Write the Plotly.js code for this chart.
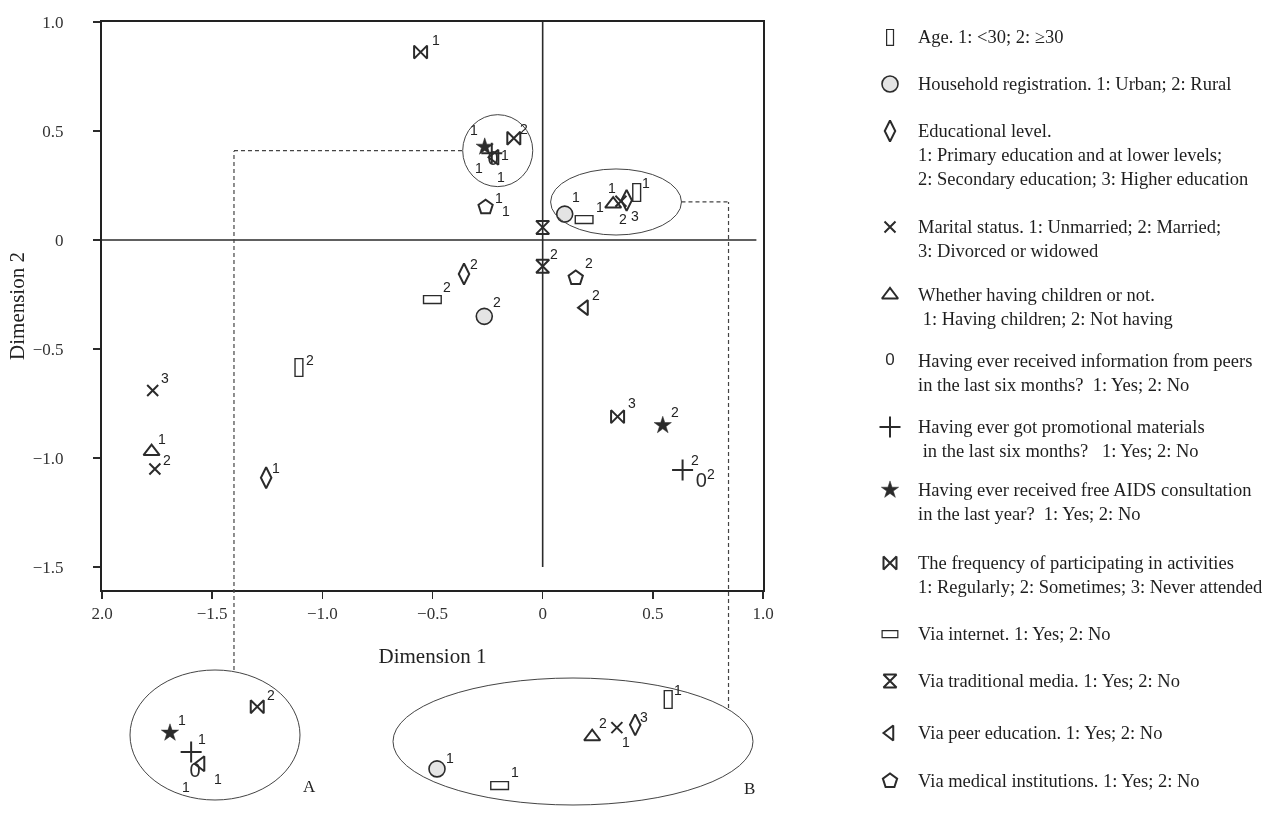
<!DOCTYPE html>
<html><head><meta charset="utf-8">
<script src="https://cdn.plot.ly/plotly-3.0.1.min.js"></script>
<style>html,body{margin:0;padding:0;background:#fff}#chart{width:1276px;height:822px;filter:grayscale(100%)}</style>
</head><body><div id="chart"></div>
<script>
// ---------------- DATA (Dimension 1, Dimension 2, category code) ----------------
const ageX = [0.428, -1.105];
const ageY = [0.218, -0.587];
const ageLab = ['1', '2'];
const houseX = [0.100, -0.265];
const houseY = [0.119, -0.350];
const houseLab = ['1', '2'];
const eduX = [-1.255, -0.357, 0.381];
const eduY = [-1.090, -0.156, 0.182];
const eduLab = ['1', '2', '3'];
const maritalX = [0.355, -1.760, -1.770];
const maritalY = [0.178, -1.050, -0.690];
const maritalLab = ['1', '2', '3'];
const childX = [-1.775, 0.320];
const childY = [-0.970, 0.165];
const childLab = ['1', '2'];
const peersX = [-0.225, 0.720];
const peersY = [0.367, -1.110];
const peersLab = ['1', '2'];
const promoX = [-0.231, 0.635];
const promoY = [0.398, -1.055];
const promoLab = ['1', '2'];
const aidsX = [-0.263, 0.545];
const aidsY = [0.427, -0.850];
const aidsLab = ['1', '2'];
const freqX = [-0.554, -0.131, 0.340];
const freqY = [0.862, 0.467, -0.810];
const freqLab = ['1', '2', '3'];
const netX = [0.189, -0.500];
const netY = [0.095, -0.275];
const netLab = ['1', '2'];
const tradX = [0.000, 0.000];
const tradY = [0.058, -0.120];
const tradLab = ['1', '2'];
const peerEduX = [-0.216, 0.190];
const peerEduY = [0.380, -0.310];
const peerEduLab = ['1', '2'];
const medX = [-0.259, 0.150];
const medY = [0.151, -0.174];
const medLab = ['1', '2'];

// legend texts
const ageText = ['Age. 1: <30; 2: \u226530'];
const houseText = ['Household registration. 1: Urban; 2: Rural'];
const eduText = ['Educational level.', '1: Primary education and at lower levels;', '2: Secondary education; 3: Higher education'];
const maritalText = ['Marital status. 1: Unmarried; 2: Married;', '3: Divorced or widowed'];
const childText = ['Whether having children or not.', '\u00a01: Having children; 2: Not having'];
const peersText = ['Having ever received information from peers', 'in the last six months?\u00a0 1: Yes; 2: No'];
const promoText = ['Having ever got promotional materials', '\u00a0in the last six months?\u00a0\u00a0 1: Yes; 2: No'];
const aidsText = ['Having ever received free AIDS consultation', 'in the last year?\u00a0 1: Yes; 2: No'];
const freqText = ['The frequency of participating in activities', '1: Regularly; 2: Sometimes; 3: Never attended'];
const netText = ['Via internet. 1: Yes; 2: No'];
const tradText = ['Via traditional media. 1: Yes; 2: No'];
const peerEduText = ['Via peer education. 1: Yes; 2: No'];
const medText = ['Via medical institutions. 1: Yes; 2: No'];

// points shown magnified in the two insets (category, index)
const insetAMembers = [['aids', 0], ['promo', 0], ['peerEdu', 0], ['peers', 0], ['freq', 1]];
const insetBMembers = [['house', 0], ['net', 0], ['child', 1], ['marital', 0], ['edu', 2], ['age', 0]];

// ---------------- STYLE / LAYOUT ----------------
const INK = '#2b2b2b';
const SERIF = '"Liberation Serif", "Times New Roman", serif';
const SANS = '"Liberation Sans", Arial, sans-serif';

const cats = [
  {key: 'age', x: ageX, y: ageY, lab: ageLab, legend: ageText, glyph: '\u25AF', gsize: 25, gfont: '"DejaVu Sans"', gweight: 'bold'},
  {key: 'house', x: houseX, y: houseY, lab: houseLab, legend: houseText, symbol: 'circle', size: 16, fill: '#e4e4e4', lw: 1.6},
  {key: 'edu', x: eduX, y: eduY, lab: eduLab, legend: eduText, symbol: 'diamond-tall-open', size: 15, lw: 2},
  {key: 'marital', x: maritalX, y: maritalY, lab: maritalLab, legend: maritalText, symbol: 'x-thin-open', size: 11, lw: 2},
  {key: 'child', x: childX, y: childY, lab: childLab, legend: childText, symbol: 'triangle-up-open', size: 14, lw: 2},
  {key: 'peers', x: peersX, y: peersY, lab: peersLab, legend: peersText, glyph: '0', gsize: 20, gfont: SANS, gweight: 'normal'},
  {key: 'promo', x: promoX, y: promoY, lab: promoLab, legend: promoText, symbol: 'cross-thin-open', size: 15, lw: 2},
  {key: 'aids', x: aidsX, y: aidsY, lab: aidsLab, legend: aidsText, symbol: 'star', size: 13, fill: INK, lw: 0.5},
  {key: 'freq', x: freqX, y: freqY, lab: freqLab, legend: freqText, symbol: 'bowtie-open', size: 13, lw: 2},
  {key: 'net', x: netX, y: netY, lab: netLab, legend: netText, glyph: '\u25AD', gsize: 25, gfont: '"DejaVu Sans"', gweight: 'bold'},
  {key: 'trad', x: tradX, y: tradY, lab: tradLab, legend: tradText, symbol: 'hourglass-open', size: 13, lw: 2},
  {key: 'peerEdu', x: peerEduX, y: peerEduY, lab: peerEduLab, legend: peerEduText, symbol: 'triangle-left-open', size: 13, lw: 2},
  {key: 'med', x: medX, y: medY, lab: medLab, legend: medText, symbol: 'pentagon-open', size: 15, lw: 2}
];

// label offsets in screen pixels [dx, dy(down)]
const mainShift = {
  age: [[9, -10], [11, -8]],
  house: [[11, -17], [13, -14]],
  edu: [[10, -10], [10, -10], [8, 16]],
  marital: [[-9, -13], [12, -9], [12, -12]],
  child: [[10, -13], [10, 15]],
  peers: [[-14, 8], [10, -8]],
  promo: [[13, 2], [12, -10]],
  aids: [[-11, -17], [12, -13]],
  freq: [[15, -12], [10, -9], [14, -14]],
  net: [[16, -12], [14, -13]],
  trad: [[-37, -16], [11, -12]],
  peerEdu: [[6, 20], [11, -13]],
  med: [[13, -9], [13, -15]]
};
const insetAShift = [[12, -13], [11, -13], [17, 15], [-9, 15], [14, -12]];
const insetBShift = [[13, -11], [15, -14], [11, -14], [9, 14], [9, -8], [10, -10]];

// legend rows (pixel rows of first text line) and geometry
const legendRows = [37, 84, 131, 227, 295, 361, 427, 490, 563, 634, 681, 733, 781];
const LEG_LINE = 24, LEG_SYM_X = 890, LEG_TXT_X = 916;

// page geometry
const W = 1276, H = 822, ML = 102, MR = 10, MT = 22, MB = 10;
const PW = W - ML - MR, PH = H - MT - MB;
const px2fx = p => (p - ML) / PW;
const px2fy = p => (H - MB - p) / PH;

const mainDomX = [0, px2fx(763)], mainDomY = [px2fy(590), 1];
const insADomX = [px2fx(130), px2fx(300)], insADomY = [px2fy(800), px2fy(670)];
const insBDomX = [px2fx(393), px2fx(753)], insBDomY = [px2fy(805), px2fy(678)];

const catByKey = {};
cats.forEach(c => catByKey[c.key] = c);

function markerTrace(c, xs, ys, xa, ya, gsize) {
  if (c.glyph) {
    return {type: 'scatter', mode: 'text', x: xs, y: ys, xaxis: xa, yaxis: ya,
      text: xs.map(() => c.glyph), textposition: 'middle center',
      textfont: {family: c.gfont, size: gsize || c.gsize, color: INK, weight: c.gweight},
      cliponaxis: false, hoverinfo: 'skip', showlegend: false, name: c.legend[0]};
  }
  return {type: 'scatter', mode: 'markers', x: xs, y: ys, xaxis: xa, yaxis: ya,
    marker: {symbol: c.symbol, size: c.size, color: c.fill || INK,
      line: {color: INK, width: c.lw}},
    cliponaxis: false, hoverinfo: 'skip', showlegend: false, name: c.legend[0]};
}

const traces = [];
const annotations = [];
const labFont = () => ({family: SANS, size: 14, color: '#222'});

// main plot
cats.forEach(c => {
  traces.push(markerTrace(c, c.x, c.y, 'x', 'y'));
  c.x.forEach((xv, i) => {
    const s = mainShift[c.key][i];
    annotations.push({xref: 'x', yref: 'y', x: xv, y: c.y[i], text: c.lab[i], showarrow: false,
      xshift: s[0], yshift: -s[1], font: labFont()});
  });
});

// insets
function addInset(members, shifts, xa, ya) {
  members.forEach((m, k) => {
    const c = catByKey[m[0]], i = m[1];
    traces.push(markerTrace(c, [c.x[i]], [c.y[i]], xa, ya));
    annotations.push({xref: xa, yref: ya, x: c.x[i], y: c.y[i], text: c.lab[i], showarrow: false,
      xshift: shifts[k][0], yshift: -shifts[k][1], font: labFont()});
  });
}
addInset(insetAMembers, insetAShift, 'x2', 'y2');
addInset(insetBMembers, insetBShift, 'x3', 'y3');

// legend (drawn on its own pixel-scaled axis)
cats.forEach((c, k) => {
  const r = legendRows[k];
  traces.push(markerTrace(c, [LEG_SYM_X], [r], 'x4', 'y4', c.gsize ? c.gsize - 3 : null));
  c.legend.forEach((line, j) => {
    annotations.push({xref: 'x4', yref: 'y4', x: LEG_TXT_X, y: r + j * LEG_LINE, text: line,
      showarrow: false, xanchor: 'left', yanchor: 'middle',
      font: {family: SERIF, size: 18.5, color: '#1e1e1e'}});
  });
});

// inset letters
annotations.push({xref: 'paper', yref: 'paper', x: px2fx(301), y: px2fy(798), text: 'A', showarrow: false,
  font: {family: SERIF, size: 17, color: '#222'}});
annotations.push({xref: 'paper', yref: 'paper', x: px2fx(749), y: px2fy(800), text: 'B', showarrow: false,
  font: {family: SERIF, size: 17, color: '#222'}});

// shapes
const thin = {color: '#444', width: 1};
const dash = {color: '#444', width: 1.2, dash: '4px,3px'};
const shapes = [
  {type: 'line', xref: 'x', yref: 'y', x0: 0, x1: 0, y0: -1.5, y1: 1.0, line: {color: INK, width: 1.6}},
  {type: 'line', xref: 'x', yref: 'y', x0: -2, x1: 0.97, y0: 0, y1: 0, line: {color: INK, width: 1.6}},
  // clusters in the main plot
  {type: 'circle', xref: 'x', yref: 'y', x0: -0.363, x1: -0.045, y0: 0.245, y1: 0.575, line: thin},
  {type: 'circle', xref: 'x', yref: 'y', x0: 0.036, x1: 0.630, y0: 0.023, y1: 0.326, line: thin},
  // connectors
  {type: 'line', xref: 'x', yref: 'y', x0: -1.401, x1: -0.363, y0: 0.41, y1: 0.41, line: dash},
  {type: 'line', xref: 'x', yref: 'paper', x0: -1.401, x1: -1.401, y0: px2fy(670), y1: px2fy(151), line: dash},
  {type: 'line', xref: 'x', yref: 'y', x0: 0.630, x1: 0.8435, y0: 0.175, y1: 0.175, line: dash},
  {type: 'line', xref: 'x', yref: 'paper', x0: 0.8435, x1: 0.8435, y0: px2fy(708), y1: px2fy(202), line: dash},
  // inset ellipses
  {type: 'circle', xref: 'paper', yref: 'paper', x0: insADomX[0], x1: insADomX[1], y0: insADomY[0], y1: insADomY[1], line: thin},
  {type: 'circle', xref: 'paper', yref: 'paper', x0: insBDomX[0], x1: insBDomX[1], y0: insBDomY[0], y1: insBDomY[1], line: thin}
];

const tickFont = {family: SERIF, size: 17, color: '#333'};
const hidden = {visible: false, fixedrange: true, showgrid: false, zeroline: false};

const layout = {
  width: W, height: H,
  margin: {l: ML, r: MR, t: MT, b: MB},
  paper_bgcolor: '#fff', plot_bgcolor: '#fff',
  showlegend: false,
  xaxis: {domain: mainDomX, range: [-2, 1], tickvals: [-2, -1.5, -1, -0.5, 0, 0.5, 1],
    ticktext: ['2.0', '\u22121.5', '\u22121.0', '\u22120.5', '0', '0.5', '1.0'],
    ticks: 'outside', ticklen: 7, tickwidth: 1.6, tickcolor: INK,
    showline: true, linewidth: 2, linecolor: '#222', mirror: true,
    showgrid: false, zeroline: false, tickfont: tickFont,
    title: {text: 'Dimension 1', font: {family: SERIF, size: 21, color: '#222'}, standoff: 26}},
  yaxis: {domain: mainDomY, range: [-1.605, 1.0], tickvals: [-1.5, -1, -0.5, 0, 0.5, 1],
    ticktext: ['\u22121.5', '\u22121.0', '\u22120.5', '0', '0.5', '1.0'],
    ticks: 'outside', ticklen: 7, tickwidth: 1.6, tickcolor: INK, ticklabelstandoff: 26,
    showline: true, linewidth: 2, linecolor: '#222', mirror: true,
    showgrid: false, zeroline: false, tickfont: tickFont,
    title: {text: 'Dimension 2', font: {family: SERIF, size: 21, color: '#222'}, standoff: 2}},
  xaxis2: Object.assign({domain: insADomX, range: [-0.3235, -0.0663], anchor: 'y2'}, hidden),
  yaxis2: Object.assign({domain: insADomY, range: [0.3246, 0.523], anchor: 'x2'}, hidden),
  xaxis3: Object.assign({domain: insBDomX, range: [0.0376, 0.548], anchor: 'y3'}, hidden),
  yaxis3: Object.assign({domain: insBDomY, range: [0.0674, 0.249], anchor: 'x3'}, hidden),
  xaxis4: Object.assign({domain: [px2fx(860), 1], range: [860, W - MR], anchor: 'y4'}, hidden),
  yaxis4: Object.assign({domain: [0, 1], range: [H - MB, MT], anchor: 'x4'}, hidden),
  shapes: shapes,
  annotations: annotations
};

Plotly.newPlot('chart', traces, layout, {staticPlot: true, displayModeBar: false});
</script>
</body></html>
